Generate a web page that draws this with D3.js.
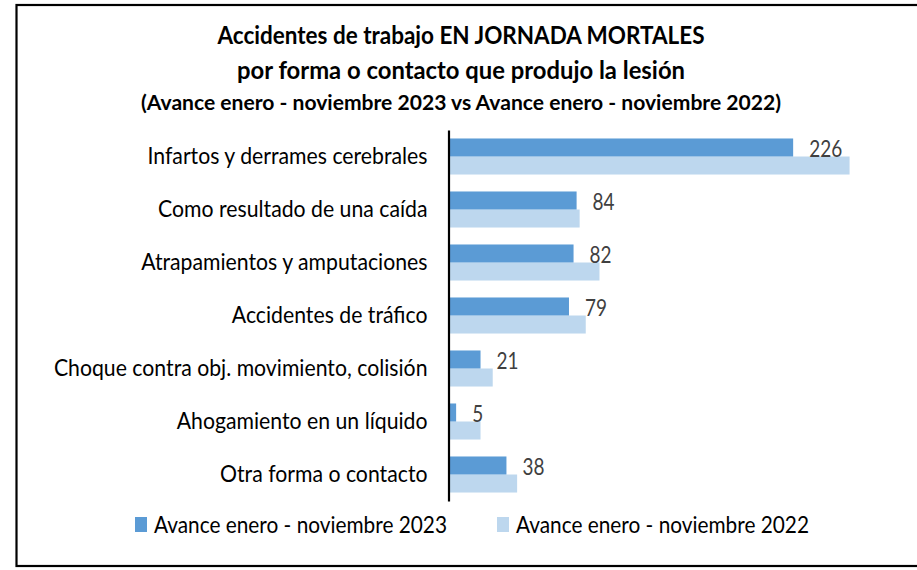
<!DOCTYPE html>
<html>
<head>
<meta charset="utf-8">
<script src="https://cdn.jsdelivr.net/npm/d3@7"></script>
<style>
  body { margin: 0; background: #fff; }
  svg { display: block; }
  text { font-family: Lato, "Open Sans", sans-serif; }
</style>
</head>
<body>
<svg id="chart"></svg>
<script>
// Chart data
var categories = [
  "Infartos y derrames cerebrales",
  "Como resultado de una caída",
  "Atrapamientos y amputaciones",
  "Accidentes de tráfico",
  "Choque contra obj. movimiento, colisión",
  "Ahogamiento en un líquido",
  "Otra forma o contacto"
];
var values2023 = [226, 84, 82, 79, 21, 5, 38];
var values2022 = [263, 86, 99, 90, 29, 21, 45];
var seriesNames = ["Avance enero - noviembre 2023", "Avance enero - noviembre 2022"];
var titleLines = [
  "Accidentes de trabajo EN JORNADA MORTALES",
  "por forma o contacto que produjo la lesión",
  "(Avance enero - noviembre 2023 vs Avance enero - noviembre 2022)"
];

var colors = ["#5B9BD5", "#BDD7EE"];

// Canvas size
var W = 917, H = 570;
var svg = d3.select("#chart")
    .attr("width", W)
    .attr("height", H);

// Outer frame
svg.append("rect")
    .attr("x", 16.5)
    .attr("y", 5)
    .attr("width", 940)
    .attr("height", 561)
    .attr("fill", "#fff")
    .attr("stroke", "#000")
    .attr("stroke-width", 2.2);

// Squeeze text to a target width (Calibri is narrower than the fonts we have)
function fitTo(sel, target) {
    sel.attr("textLength", target).attr("lengthAdjust", "spacingAndGlyphs");
}
function squeeze(sel, k) {
    sel.each(function() {
        var t = d3.select(this);
        t.attr("textLength", this.getComputedTextLength() * k)
         .attr("lengthAdjust", "spacingAndGlyphs");
    });
}

// Title
var titleSpec = [
  {size: 25, y: 44, w: 487},
  {size: 25, y: 79, w: 448},
  {size: 20.5, y: 110, w: 640}
];
titleLines.forEach(function(t, i) {
    var s = svg.append("text")
        .attr("x", 461)
        .attr("y", titleSpec[i].y)
        .attr("text-anchor", "middle")
        .attr("font-weight", "bold")
        .attr("font-size", titleSpec[i].size)
        .attr("fill", "#000")
        .text(t);
    fitTo(s, titleSpec[i].w);
});

// Scales
var x = d3.scaleLinear().domain([0, 100]).range([448.5, 448.5 + 152.5]);
var y = d3.scaleBand().domain(categories).range([130, 501])
    .paddingInner(0.32).paddingOuter(0.16);
var ySub = d3.scaleBand().domain([0, 1]).range([0, y.bandwidth()]);

// Bars
var rows = svg.selectAll(".row")
    .data(categories)
    .enter().append("g")
    .attr("class", "row")
    .attr("transform", function(d) { return "translate(0," + y(d) + ")"; });

rows.append("rect")
    .attr("x", x(0))
    .attr("y", ySub(1))
    .attr("width", function(d, i) { return x(values2022[i]) - x(0); })
    .attr("height", ySub.bandwidth())
    .attr("fill", colors[1]);

rows.append("rect")
    .attr("x", x(0))
    .attr("y", ySub(0))
    .attr("width", function(d, i) { return x(values2023[i]) - x(0); })
    .attr("height", ySub.bandwidth())
    .attr("fill", colors[0]);

// Value labels for 2023
var vals = rows.append("text")
    .attr("x", function(d, i) { return x(values2023[i]) + 16; })
    .attr("y", ySub(0) + ySub.bandwidth() / 2 + 1.5)
    .attr("dy", "0.35em")
    .attr("font-size", 23)
    .attr("fill", "#404040")
    .text(function(d, i) { return values2023[i]; });

// Category axis
var yAxis = d3.axisLeft(y).tickSize(0).tickPadding(21);
var ag = svg.append("g")
    .attr("transform", "translate(" + x(0) + ",0)")
    .call(yAxis);
ag.select(".domain").attr("stroke", "#000").attr("stroke-width", 2.2);
var ticks = ag.selectAll(".tick text")
    .attr("font-family", "Lato, 'Open Sans', sans-serif")
    .attr("font-size", 22.5)
    .attr("fill", "#000");

// Fit labels to Calibri widths using the first label as reference
var ref = ticks.filter(function(d) { return d === categories[0]; }).node().getComputedTextLength();
squeeze(ticks, 280 / ref);
var refVal = vals.filter(function(d, i) { return i === 0; }).node().getComputedTextLength();
squeeze(vals, 33 / refVal);

// Legend
var legendX = [135, 497];
var lg = svg.selectAll(".legend")
    .data(seriesNames)
    .enter().append("g")
    .attr("class", "legend")
    .attr("transform", function(d, i) { return "translate(" + legendX[i] + ",517)"; });
lg.append("rect")
    .attr("width", 12)
    .attr("height", 15)
    .attr("fill", function(d, i) { return colors[i]; });
var lt = lg.append("text")
    .attr("x", 19)
    .attr("y", 8)
    .attr("dy", "0.35em")
    .attr("font-size", 22.5)
    .attr("fill", "#000")
    .text(function(d) { return d; });
lt.each(function() { fitTo(d3.select(this), 293); });
</script>
</body>
</html>
